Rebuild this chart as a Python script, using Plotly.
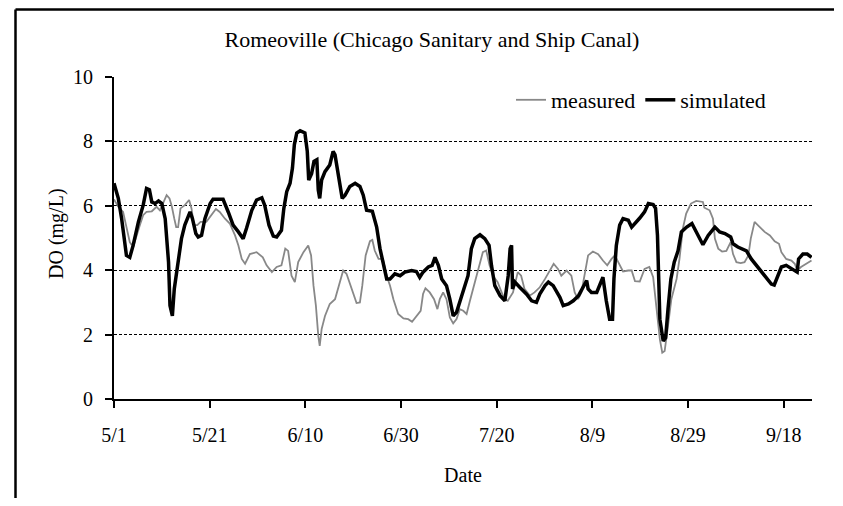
import plotly.graph_objects as go

# ---- data (days since May 1) ----
tick_days = [0, 20, 40, 60, 80, 100, 120, 140]
tick_labels = ["5/1", "5/21", "6/10", "6/30", "7/20", "8/9", "8/29", "9/18"]

sim_day = [0, 0.9, 1.6, 2.6, 3.3, 4.0, 5.1, 6.1, 6.8, 7.4, 7.9, 8.6, 9.3, 10.0, 10.7, 11.4, 11.7, 12.2, 12.6,
           13.4, 14.1, 14.8, 15.9, 16.4, 17.1, 17.6, 18.3, 19.0, 20.1, 20.7, 22.8, 23.9, 24.9, 26.0, 27.0, 27.7,
           28.8, 29.8, 30.9, 31.5, 32.4, 33.3, 34.0, 35.0, 35.5, 36.1, 36.8, 37.3, 37.7, 38.2, 38.9, 39.9, 40.4,
           40.7, 41.3, 41.8, 42.4, 42.7, 43.0, 43.4, 44.1, 45.1, 45.8, 46.2, 46.9, 47.7, 48.3, 49.3, 50.4, 51.4,
           52.1, 52.8, 54.0, 54.9, 55.6, 56.3, 57.0, 57.7, 58.7, 59.8, 60.8, 62.2, 63.2, 63.9, 64.6, 65.7, 66.5,
           67.1, 67.8, 68.5, 69.5, 70.2, 70.9, 71.6, 72.3, 73.0, 74.0, 74.7, 75.4, 76.5, 77.5, 78.4, 78.9, 79.6,
           80.7, 81.7, 82.4, 82.8, 83.1, 83.3, 83.8, 84.8, 86.2, 87.3, 88.3, 89.0, 90.1, 90.8, 91.8, 93.2, 93.9,
           95.0, 96.0, 97.1, 98.1, 98.8, 99.1, 99.8, 100.9, 101.5, 102.2, 102.9, 103.6, 104.2, 104.5, 105.0,
           105.7, 106.4, 107.5, 108.2, 108.9, 109.9, 110.9, 111.7, 112.7, 113.2, 113.6, 113.9, 114.1, 114.8,
           115.3, 115.8, 116.4, 117.1, 117.9, 118.6, 119.7, 120.8, 122.1, 123.1, 124.2, 125.6, 126.6, 127.7,
           128.9, 129.4, 130.4, 131.2, 132.2, 133.2, 134.3, 135.3, 136.4, 137.4, 138.0, 138.7, 139.5, 140.5,
           141.6, 142.8, 143.1, 144.0, 144.9, 145.8]
sim_do = [6.70, 6.23, 5.6, 4.46, 4.4, 4.77, 5.5, 6.02, 6.54, 6.5, 6.12, 6.07, 6.15, 6.07, 5.6, 4.25, 2.9, 2.58, 3.42,
          4.35, 4.98, 5.4, 5.81, 5.6, 5.14, 5.03, 5.08, 5.6, 6.07, 6.2, 6.2, 5.8, 5.4, 5.19, 4.98, 5.3,
          5.86, 6.18, 6.25, 6.02, 5.4, 5.06, 5.03, 5.24, 5.92, 6.44, 6.7, 7.17, 7.9, 8.26, 8.33, 8.26, 7.69,
          6.8, 7.0, 7.38, 7.43, 6.49, 6.23, 6.8, 7.06, 7.27, 7.69, 7.58, 6.9, 6.23, 6.33, 6.6, 6.7, 6.6,
          6.33, 5.86, 5.83, 5.34, 4.67, 4.25, 3.73, 3.73, 3.89, 3.83, 3.94, 3.99, 3.96, 3.78, 3.94, 4.1, 4.15,
          4.4, 4.15, 3.73, 3.52, 3.1, 2.58, 2.69, 3.02, 3.42, 3.83, 4.67, 4.98, 5.1, 4.98, 4.77, 4.15, 3.52,
          3.21, 3.05, 3.83, 4.67, 4.77, 3.42, 3.63, 3.47, 3.26, 3.05, 3.0, 3.26, 3.52, 3.63, 3.52, 3.16, 2.9,
          2.95, 3.05, 3.21, 3.52, 3.68, 3.42, 3.31, 3.31, 3.52, 3.78, 3.05, 2.48, 2.48, 3.73, 4.77,
          5.4, 5.6, 5.55, 5.34, 5.45, 5.62, 5.81, 6.07, 6.04, 5.92, 5.08, 3.52, 2.48, 1.8,
          1.9, 2.79, 3.73, 4.25, 4.6, 5.19, 5.34, 5.45, 5.08, 4.79, 5.08, 5.34, 5.19, 5.14,
          5.03, 4.82, 4.72, 4.67, 4.6, 4.35, 4.15, 3.94, 3.73, 3.57, 3.54, 3.83, 4.1, 4.15,
          4.04, 3.94, 4.35, 4.5, 4.5, 4.4]

meas_day = [0, 0.9, 1.9, 2.6, 3.3, 4.0, 4.7, 5.4, 6.1, 6.8, 7.9, 8.9, 9.6, 10.3, 11.0, 11.6, 12.1, 12.6, 13.0,
            13.4, 13.9, 14.8, 15.7, 16.2, 16.7, 17.4, 18.1, 19.3, 20.4, 21.3, 22.1, 23.2, 24.2, 25.3, 26.0,
            26.7, 27.4, 28.4, 29.8, 31.1, 31.9, 33.0, 34.0, 35.0, 35.8, 36.4, 37.1, 37.8, 38.5, 39.6, 40.6,
            41.2, 41.7, 42.2, 42.7, 43.0, 43.4, 44.1, 45.1, 46.2, 47.0, 47.9, 48.6, 49.3, 50.0, 50.7, 51.4,
            51.9, 52.6, 53.5, 54.0, 54.5, 55.3, 56.2, 57.0, 57.7, 58.4, 59.4, 60.5, 61.5, 62.3, 63.2, 64.1,
            64.6, 65.1, 66.0, 66.9, 67.6, 68.1, 68.8, 69.5, 70.2, 70.9, 71.6, 72.3, 73.0, 73.7, 74.4, 75.4,
            76.5, 77.1, 77.8, 78.5, 79.2, 80.2, 80.9, 81.6, 82.3, 83.4, 84.4, 85.1, 85.8, 86.9, 87.9, 89.0,
            90.1, 91.1, 91.9, 92.8, 93.5, 94.6, 95.6, 96.3, 97.0, 97.7, 98.4, 99.1, 100.1, 101.2, 102.2,
            103.1, 104.0, 104.7, 105.4, 106.4, 107.5, 108.2, 108.9, 109.9, 110.9, 111.9, 112.7, 113.2, 113.7,
            114.1, 114.6, 115.1, 115.8, 116.5, 117.6, 118.2, 118.9, 119.6, 120.6, 121.7, 123.1, 123.4, 124.5,
            125.2, 125.6, 126.3, 127.1, 128.0, 128.9, 129.4, 130.1, 131.0, 131.8, 132.6, 133.1, 133.9, 135.0,
            136.0, 137.1, 138.1, 139.0, 139.5, 140.5, 141.6, 142.3, 142.8, 143.6, 144.7, 145.8]
meas_do = [6.2, 5.97, 5.81, 5.29, 4.87, 4.72, 5.08, 5.4, 5.71, 5.81, 5.83, 5.97, 5.86, 6.12, 6.33, 6.23, 5.97, 5.6, 5.34,
           5.34, 5.92, 6.02, 6.18, 5.92, 5.4, 5.4, 5.5, 5.5, 5.71, 5.9, 5.81, 5.6, 5.45, 5.08, 4.77,
           4.35, 4.2, 4.5, 4.56, 4.4, 4.15, 3.94, 4.1, 4.15, 4.67, 4.6, 3.83, 3.63, 4.25, 4.56, 4.77,
           4.46, 3.52, 2.9, 1.96, 1.65, 2.17, 2.58, 2.95, 3.1, 3.52, 3.99, 3.89, 3.57, 3.31, 2.98, 3.0,
           3.52, 4.46, 4.9, 4.94, 4.61, 4.35, 4.35, 3.83, 3.52, 3.1, 2.64, 2.5, 2.48, 2.4, 2.58, 2.74,
           3.26, 3.44, 3.31, 3.1, 2.79, 3.1, 3.31, 3.1, 2.53, 2.35, 2.48, 2.79, 2.74, 2.64, 3.05, 3.63,
           4.25, 4.56, 4.61, 4.15, 3.83, 3.63, 3.36, 3.1, 3.05, 3.31, 3.94, 3.83, 3.42, 3.21, 3.31, 3.47,
           3.73, 3.99, 4.2, 4.04, 3.83, 3.99, 3.83, 3.31, 3.1, 3.31, 3.83, 4.46, 4.58, 4.5, 4.3,
           4.15, 4.35, 4.46, 4.25, 3.96, 3.99, 3.99, 3.66, 3.65, 4.04, 4.1, 3.78, 3.1, 2.48,
           1.85, 1.44, 1.49, 2.27, 3.1, 3.73, 4.35, 5.29, 5.76, 6.07, 6.15, 6.12, 5.94, 5.86,
           5.6, 4.98, 4.67, 4.58, 4.6, 4.87, 4.5, 4.25, 4.22, 4.25, 4.46, 4.98, 5.5, 5.34,
           5.19, 5.08, 4.9, 4.82, 4.56, 4.35, 4.3, 4.2, 3.99, 4.1, 4.2, 4.3]

y_ticks = [0, 2, 4, 6, 8, 10]

FONT = "Liberation Serif, Times New Roman, serif"

fig = go.Figure()
fig.add_trace(go.Scatter(x=meas_day, y=meas_do, mode="lines", name="measured",
                         line=dict(color="#888888", width=1.8)))
fig.add_trace(go.Scatter(x=sim_day, y=sim_do, mode="lines", name="simulated",
                         line=dict(color="#000000", width=3.5)))

# page has an 8px body margin on every side: size the figure so the page does not scroll
OFF = 8
W, H = 843 - 2 * OFF, 506 - 2 * OFF
# plot area in page pixels: x 114..812, y 77..399
L, R, T, B = 114 - OFF, W - (812 - OFF), 77 - OFF, H - (399 - OFF)
pw, ph = W - L - R, H - T - B


def px(xp):  # page x pixel -> paper x
    return (xp - OFF - L) / pw


def py(yp):  # page y pixel -> paper y
    return (H - B - (yp - OFF)) / ph


fig.update_layout(
    width=W, height=H,
    margin=dict(l=L, r=R, t=T, b=B),
    paper_bgcolor="white", plot_bgcolor="white",
    font=dict(family=FONT, size=20, color="black"),
    title=dict(text="Romeoville (Chicago Sanitary and Ship Canal)", x=px(432), xref="paper",
               xanchor="center", y=1 - (39 - OFF) / H, yanchor="middle", font=dict(size=22)),
    showlegend=True,
    legend=dict(orientation="h", x=px(511), y=py(100), xanchor="left", yanchor="middle",
                bgcolor="rgba(0,0,0,0)", font=dict(size=22), itemwidth=30, tracegroupgap=0),
    xaxis=dict(range=[0, 145.9], tickvals=tick_days, ticktext=tick_labels, showgrid=False,
               showline=True, linecolor="black", linewidth=2, ticks="outside", ticklen=7,
               tickwidth=2, tickcolor="black", zeroline=False, ticklabelstandoff=10,
               title=dict(text="Date", font=dict(size=20), standoff=23)),
    yaxis=dict(range=[0, 10], tickvals=y_ticks, showgrid=True, gridcolor="black", gridwidth=1,
               griddash="3px,2px", showline=True, linecolor="black", linewidth=2, ticks="outside",
               ticklen=7, tickwidth=2, tickcolor="black", zeroline=False, ticklabelstandoff=8),
    annotations=[dict(text="DO (mg/L)", textangle=-90, xref="paper", yref="paper",
                      x=px(56), y=py(234), xanchor="center", yanchor="middle", showarrow=False,
                      font=dict(size=20))],
)

# outer chart frame (left and top edges visible in the reference crop)
fig.add_shape(type="line", xref="paper", yref="paper",
              x0=px(15.5), x1=px(15.5), y0=py(498), y1=py(9.5),
              line=dict(color="black", width=2.5))
fig.add_shape(type="line", xref="paper", yref="paper",
              x0=px(15.5), x1=px(834), y0=py(9.5), y1=py(9.5),
              line=dict(color="black", width=2.5))

fig.write_html("out.html")
